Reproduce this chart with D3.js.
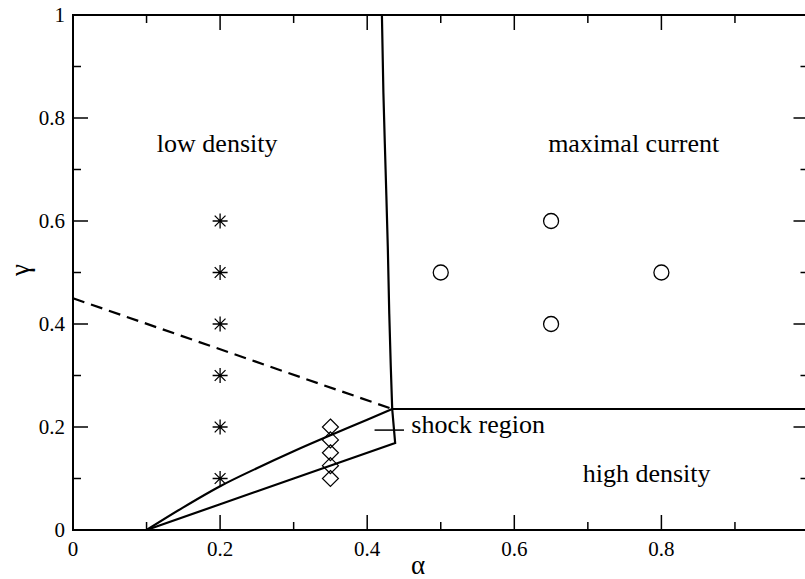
<!DOCTYPE html>
<html>
<head>
<meta charset="utf-8">
<script src="https://cdn.jsdelivr.net/npm/d3@7"></script>
<style>
  @font-face { font-family: "ChartSerif"; src: local("Liberation Serif"), local("LiberationSerif"), local("LiberationSerif-Regular"), local("Tinos"), local("Nimbus Roman"), local("FreeSerif"); }
</style>
</head>
<body style="margin:0">
<svg width="805" height="579"></svg>
<script>
// phase boundaries (alpha, gamma)
const upperBoundary = [[0.420, 1.0], [0.422, 0.85], [0.425, 0.7], [0.428, 0.55], [0.430, 0.42], [0.432, 0.32], [0.434, 0.235]];
const hdBoundary = [[0.434, 0.235], [1.0, 0.235]];
const dashedBoundary = [[0.0, 0.45], [0.434, 0.235]];
const shockUpper = [[0.1, 0.0], [0.15, 0.044], [0.2, 0.085], [0.25, 0.12], [0.3, 0.153], [0.35, 0.184], [0.4, 0.214], [0.434, 0.235]];
const shockLower = [[0.1, 0.0], [0.2, 0.05], [0.3, 0.1], [0.438, 0.169], [0.434, 0.235]];
const shockMark = [[0.41, 0.194], [0.45, 0.194]];

// simulation points
const starPts = [[0.2, 0.1], [0.2, 0.2], [0.2, 0.3], [0.2, 0.4], [0.2, 0.5], [0.2, 0.6]];
const diamondPts = [[0.35, 0.1], [0.35, 0.125], [0.35, 0.15], [0.35, 0.175], [0.35, 0.2]];
const circlePts = [[0.5, 0.5], [0.65, 0.6], [0.65, 0.4], [0.8, 0.5]];

const labels = [
  { text: "low density", a: 0.114, g: 0.734 },
  { text: "maximal current", a: 0.646, g: 0.734 },
  { text: "shock region", a: 0.46, g: 0.188 },
  { text: "high density", a: 0.693, g: 0.093 }
];

const xMajor = [0, 0.2, 0.4, 0.6, 0.8];
const xMinor = [0.1, 0.3, 0.5, 0.7, 0.9];
const yMajor = [0, 0.2, 0.4, 0.6, 0.8, 1];
const yMinor = [0.1, 0.3, 0.5, 0.7, 0.9];

const svg = d3.select("svg");
const mLeft = 73, mTop = 15, mRight = 808.5, mBottom = 530;
const fontName = "'Liberation Serif', 'ChartSerif', 'Tinos', 'Times New Roman', 'Nimbus Roman', 'FreeSerif', 'DejaVu Serif'";

const x = d3.scaleLinear().domain([0, 1]).range([mLeft, mRight]);
const y = d3.scaleLinear().domain([0, 1]).range([mBottom, mTop]);

// frame
svg.append("rect")
  .attr("x", mLeft).attr("y", mTop)
  .attr("width", mRight - mLeft).attr("height", mBottom - mTop)
  .attr("fill", "none").attr("stroke", "#000").attr("stroke-width", 2);

// ticks on all four sides, pointing inward
function xticks(vals, len) {
  const g = svg.append("g").attr("stroke", "#000").attr("stroke-width", 1.5);
  vals.forEach(v => {
    g.append("line").attr("x1", x(v)).attr("x2", x(v)).attr("y1", mBottom).attr("y2", mBottom - len);
    g.append("line").attr("x1", x(v)).attr("x2", x(v)).attr("y1", mTop).attr("y2", mTop + len);
  });
}
function yticks(vals, len) {
  const g = svg.append("g").attr("stroke", "#000").attr("stroke-width", 1.5);
  vals.forEach(v => {
    g.append("line").attr("y1", y(v)).attr("y2", y(v)).attr("x1", mLeft).attr("x2", mLeft + len);
    g.append("line").attr("y1", y(v)).attr("y2", y(v)).attr("x1", mRight).attr("x2", mRight - len);
  });
}
xticks(xMajor.slice(1), 15);
xticks(xMinor, 8);
yticks(yMajor.slice(1, -1), 15);
yticks(yMinor, 8);

// boundaries
const line = d3.line().x(d => x(d[0])).y(d => y(d[1]));
const curve = d3.line().x(d => x(d[0])).y(d => y(d[1])).curve(d3.curveMonotoneX);
const vcurve = d3.line().x(d => x(d[0])).y(d => y(d[1])).curve(d3.curveMonotoneY);

const plot = svg.append("g").attr("fill", "none").attr("stroke", "#000").attr("stroke-width", 2.2);
plot.append("path").attr("d", vcurve(upperBoundary));
plot.append("path").attr("d", line(hdBoundary));
plot.append("path").attr("d", line(dashedBoundary)).attr("stroke-dasharray", "12,7");
plot.append("path").attr("d", curve(shockUpper));
plot.append("path").attr("d", line(shockLower));
plot.append("path").attr("d", line(shockMark)).attr("stroke-width", 1.5);

// markers
const r = 7.5;
const starPath = `M0,${-r}V${r}M${-r},0H${r}M${-r * 0.72},${-r * 0.72}L${r * 0.72},${r * 0.72}M${-r * 0.72},${r * 0.72}L${r * 0.72},${-r * 0.72}`;
svg.append("g").selectAll("path").data(starPts).join("path")
  .attr("transform", d => `translate(${x(d[0])},${y(d[1])})`)
  .attr("d", starPath).attr("stroke", "#000").attr("stroke-width", 1.3).attr("fill", "none");

const dr = 8;
svg.append("g").selectAll("path").data(diamondPts).join("path")
  .attr("transform", d => `translate(${x(d[0])},${y(d[1])})`)
  .attr("d", `M0,${-dr}L${dr},0L0,${dr}L${-dr},0Z`)
  .attr("stroke", "#000").attr("stroke-width", 1.2).attr("fill", "none");

svg.append("g").selectAll("circle").data(circlePts).join("circle")
  .attr("cx", d => x(d[0])).attr("cy", d => y(d[1])).attr("r", 7.5)
  .attr("stroke", "#000").attr("stroke-width", 1.3).attr("fill", "none");

// all text last, straight on the svg
const xl = svg.selectAll("text.xtick").data(xMajor).enter().append("text")
  .attr("class", "xtick")
  .attr("x", d => x(d)).attr("y", mBottom + 26)
  .attr("text-anchor", "middle")
  .text(d => d);
const yl = svg.selectAll("text.ytick").data(yMajor).enter().append("text")
  .attr("class", "ytick")
  .attr("x", mLeft - 8).attr("y", d => y(d) + 7)
  .attr("text-anchor", "end")
  .text(d => d);
[xl, yl].forEach(s => s.style("font-family", fontName).style("font-size", "21px"));

svg.append("text").attr("x", 418).attr("y", 574)
  .attr("text-anchor", "middle")
  .style("font-family", fontName).style("font-size", "27px").text("α");
svg.append("text").attr("transform", "translate(29,270) rotate(-90)")
  .attr("text-anchor", "middle")
  .style("font-family", fontName).style("font-size", "27px").text("γ");

svg.selectAll("text.region").data(labels).enter().append("text")
  .attr("class", "region")
  .attr("x", d => x(d.a)).attr("y", d => y(d.g))
  .style("font-family", fontName).style("font-size", "26px")
  .text(d => d.text);
</script>
</body>
</html>
